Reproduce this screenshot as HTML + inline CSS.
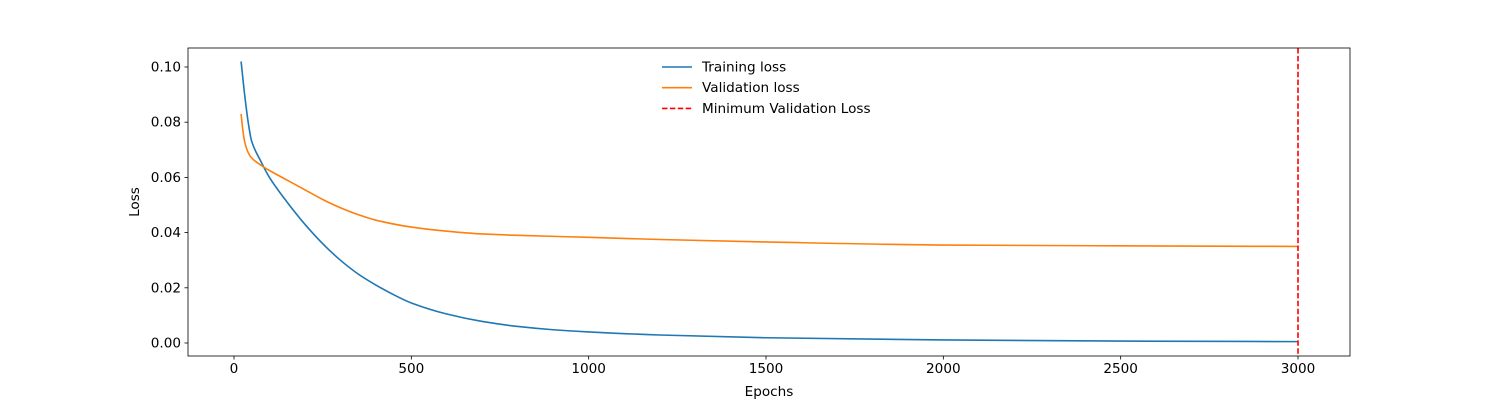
<!DOCTYPE html>
<html><head><meta charset="utf-8"><style>
html,body{margin:0;padding:0;background:#fff;}
svg text{font-family:"DejaVu Sans","Liberation Sans",sans-serif;font-size:13.6px;fill:#000;}
</style></head><body>
<svg id="chart" width="1500" height="400" xmlns="http://www.w3.org/2000/svg">
<rect width="1500" height="400" fill="#fff"/>
<g id="plot"></g>
</svg>
<script>
const trainEpochs=[20,30,40,50,75,100,150,200,250,300,350,400,450,500,600,700,800,900,1000,1200,1500,2000,2500,3000];
const trainLoss=[0.102,0.09,0.08,0.073,0.066,0.060,0.051,0.043,0.036,0.030,0.025,0.021,0.0175,0.0145,0.0105,0.0078,0.006,0.0048,0.004,0.0029,0.0019,0.0011,0.0007,0.0005];
const valEpochs=[20,25,30,40,50,75,100,150,200,250,300,350,400,500,600,700,800,1000,1200,1500,2000,2500,3000];
const valLoss=[0.083,0.077,0.073,0.069,0.067,0.0645,0.0625,0.059,0.0555,0.052,0.049,0.0465,0.0445,0.042,0.0405,0.0395,0.039,0.0383,0.0375,0.0366,0.0355,0.0352,0.035];
const minEpoch=[3000];
const xTicks=[0,500,1000,1500,2000,2500,3000];
const yTicks=[0,0.02,0.04,0.06,0.08,0.10];
const yTickLabels=["0.00","0.02","0.04","0.06","0.08","0.10"];

const L=188,R=1350,T=48,B=356;
const X=v=>234+v*(1298-234)/3000;
const Y=v=>343-v*(343-67)/0.10;
const g=document.getElementById('plot');
const NS='http://www.w3.org/2000/svg';
function mk(tag,attrs,parent){const e=document.createElementNS(NS,tag);for(const k in attrs)e.setAttribute(k,attrs[k]);(parent||g).appendChild(e);return e;}

function smoothPath(xs,ys){
  const p=xs.map((x,i)=>[X(x),Y(ys[i])]);
  const n=p.length;
  // monotone cubic (Fritsch-Carlson)
  const d=[],m=[];
  for(let i=0;i<n-1;i++)d.push((p[i+1][1]-p[i][1])/(p[i+1][0]-p[i][0]));
  m[0]=d[0];m[n-1]=d[n-2];
  for(let i=1;i<n-1;i++)m[i]=(d[i-1]*d[i]<=0)?0:2/(1/d[i-1]+1/d[i]);
  let s='M'+p[0][0]+','+p[0][1];
  for(let i=0;i<n-1;i++){
    const h=(p[i+1][0]-p[i][0])/3;
    s+=' C'+(p[i][0]+h)+','+(p[i][1]+m[i]*h)+' '+(p[i+1][0]-h)+','+(p[i+1][1]-m[i+1]*h)+' '+p[i+1][0]+','+p[i+1][1];
  }
  return s;
}
function line(xs,ys,color,name){
  const p=mk('path',{d:smoothPath(xs,ys),fill:'none',stroke:color,'stroke-width':1.6,'stroke-linejoin':'round'});
  
  
}
line(trainEpochs,trainLoss,'#1f77b4','training-loss-line');
line(valEpochs,valLoss,'#ff7f0e','validation-loss-line');
const mv=mk('line',{x1:X(minEpoch[0]),x2:X(minEpoch[0]),y1:T,y2:B,stroke:'#ff0000','stroke-width':1.6,'stroke-dasharray':'5.5,2.4'});



const frame=mk('rect',{x:L,y:T,width:R-L,height:B-T,fill:'none',stroke:'#000','stroke-width':0.8});



xTicks.forEach(v=>{
  mk('line',{x1:X(v),x2:X(v),y1:B,y2:B+3.5,stroke:'#000','stroke-width':0.8});
  const t=mk('text',{x:X(v),y:B+17,'text-anchor':'middle'});t.textContent=v;
  
  
});
yTicks.forEach((v,i)=>{
  mk('line',{x1:L-3.5,x2:L,y1:Y(v),y2:Y(v),stroke:'#000','stroke-width':0.8});
  const t=mk('text',{x:L-7,y:Y(v)+4.5,'text-anchor':'end'});t.textContent=yTickLabels[i];
  
  
});
const xt=mk('text',{x:(L+R)/2,y:396,'text-anchor':'middle'});xt.textContent='Epochs';


const yt=mk('text',{x:139,y:(T+B)/2,'text-anchor':'middle',transform:'rotate(-90 139 '+((T+B)/2)+')'});yt.textContent='Loss';



const leg=[['Training loss','#1f77b4',''],['Validation loss','#ff7f0e',''],['Minimum Validation Loss','#ff0000','5.5,2.4']];
leg.forEach((e,i)=>{
  const y=67+i*20.7;
  const l=mk('line',{x1:662,x2:692,y1:y,y2:y,stroke:e[1],'stroke-width':1.6});
  if(e[2])l.setAttribute('stroke-dasharray',e[2]);
  
  
  const t=mk('text',{x:702,y:y+4.5});t.textContent=e[0];
  
  
});
</script>
</body></html>
